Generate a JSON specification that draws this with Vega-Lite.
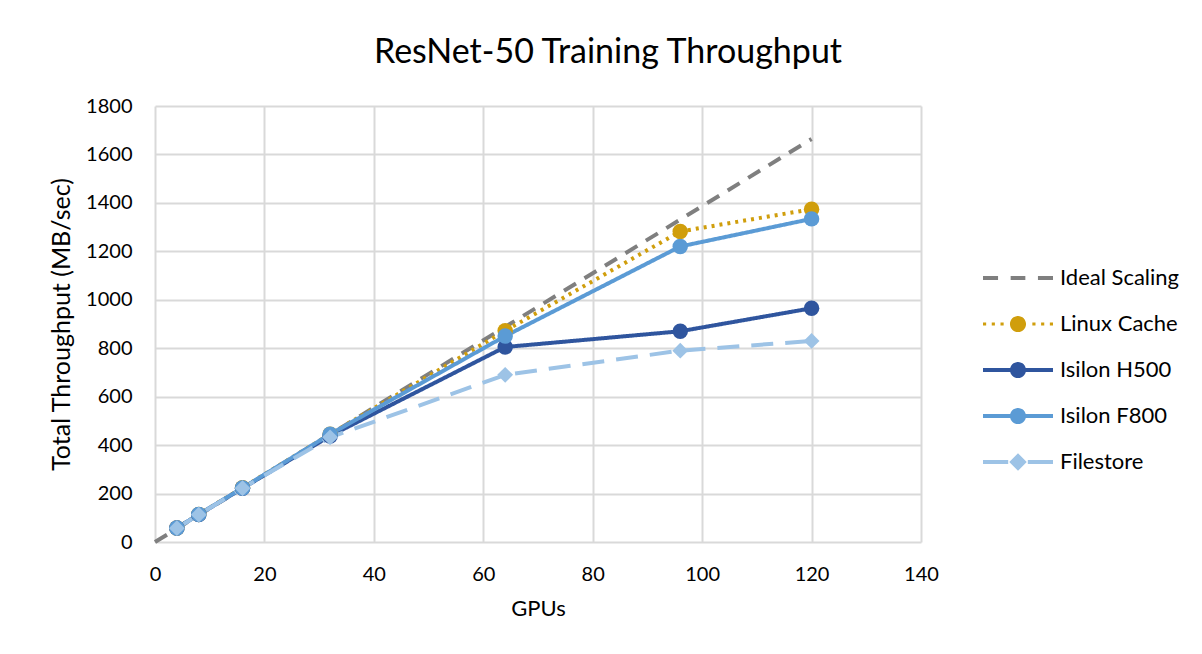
{
  "$schema": "https://vega.github.io/schema/vega-lite/v6.json",
  "width": 766,
  "height": 436,
  "autosize": {"type": "none"},
  "padding": {"left": 155, "top": 106, "right": 281, "bottom": 112},
  "background": "white",
  "title": {
    "text": "ResNet-50 Training Throughput",
    "font": "Lato",
    "fontSize": 34,
    "fontWeight": "normal",
    "color": "#000000",
    "anchor": "middle",
    "dx": 70,
    "offset": 26
  },
  "config": {
    "view": {"stroke": null},
    "font": "Lato",
    "axis": {
      "labelFont": "Lato",
      "labelFontSize": 20,
      "labelColor": "#000000",
      "labelFlush": false,
      "titleFont": "Lato",
      "titleFontWeight": "normal",
      "titleColor": "#000000",
      "domain": false,
      "ticks": false,
      "gridColor": "#D9D9D9",
      "gridWidth": 2
    },
    "legend": {
      "labelFont": "Lato",
      "labelFontSize": 22,
      "labelColor": "#000000"
    }
  },
  "resolve": {"legend": {"color": "independent", "shape": "independent", "strokeDash": "independent"}},
  "data": {
    "values": [
      {"series": "Ideal Scaling", "gpus": 0, "tp": 0},
      {"series": "Ideal Scaling", "gpus": 4, "tp": 55},
      {"series": "Ideal Scaling", "gpus": 8, "tp": 111},
      {"series": "Ideal Scaling", "gpus": 16, "tp": 222},
      {"series": "Ideal Scaling", "gpus": 32, "tp": 444},
      {"series": "Ideal Scaling", "gpus": 64, "tp": 888},
      {"series": "Ideal Scaling", "gpus": 96, "tp": 1331},
      {"series": "Ideal Scaling", "gpus": 120, "tp": 1664},
      {"series": "Linux Cache", "gpus": 4, "tp": 58},
      {"series": "Linux Cache", "gpus": 8, "tp": 114},
      {"series": "Linux Cache", "gpus": 16, "tp": 224},
      {"series": "Linux Cache", "gpus": 32, "tp": 445},
      {"series": "Linux Cache", "gpus": 64, "tp": 872},
      {"series": "Linux Cache", "gpus": 96, "tp": 1282},
      {"series": "Linux Cache", "gpus": 120, "tp": 1374},
      {"series": "Isilon H500", "gpus": 4, "tp": 58},
      {"series": "Isilon H500", "gpus": 8, "tp": 113},
      {"series": "Isilon H500", "gpus": 16, "tp": 222},
      {"series": "Isilon H500", "gpus": 32, "tp": 438},
      {"series": "Isilon H500", "gpus": 64, "tp": 805},
      {"series": "Isilon H500", "gpus": 96, "tp": 870},
      {"series": "Isilon H500", "gpus": 120, "tp": 965},
      {"series": "Isilon F800", "gpus": 4, "tp": 58},
      {"series": "Isilon F800", "gpus": 8, "tp": 114},
      {"series": "Isilon F800", "gpus": 16, "tp": 223},
      {"series": "Isilon F800", "gpus": 32, "tp": 445},
      {"series": "Isilon F800", "gpus": 64, "tp": 850},
      {"series": "Isilon F800", "gpus": 96, "tp": 1220},
      {"series": "Isilon F800", "gpus": 120, "tp": 1334},
      {"series": "Filestore", "gpus": 4, "tp": 57},
      {"series": "Filestore", "gpus": 8, "tp": 113},
      {"series": "Filestore", "gpus": 16, "tp": 222},
      {"series": "Filestore", "gpus": 32, "tp": 432},
      {"series": "Filestore", "gpus": 64, "tp": 690},
      {"series": "Filestore", "gpus": 96, "tp": 790},
      {"series": "Filestore", "gpus": 120, "tp": 830}
    ]
  },
  "encoding": {
    "x": {
      "field": "gpus",
      "type": "quantitative",
      "title": "GPUs",
      "scale": {"domain": [0, 140], "nice": false},
      "axis": {"values": [0, 20, 40, 60, 80, 100, 120, 140], "labelPadding": 22, "titlePadding": 14, "titleFontSize": 22}
    },
    "y": {
      "field": "tp",
      "type": "quantitative",
      "title": "Total Throughput (MB/sec)",
      "scale": {"domain": [0, 1800], "nice": false},
      "axis": {"values": [0, 200, 400, 600, 800, 1000, 1200, 1400, 1600, 1800], "format": "d", "labelPadding": 23, "titlePadding": 11, "titleFontSize": 25}
    },
    "color": {
      "field": "series",
      "type": "nominal",
      "scale": {
        "domain": ["Ideal Scaling", "Linux Cache", "Isilon H500", "Isilon F800", "Filestore"],
        "range": ["#7F7F7F", "#D09E0C", "#2F559E", "#5B9BD5", "#9DC3E6"]
      }
    }
  },
  "layer": [
    {
      "mark": {"type": "point", "filled": true, "opacity": 0, "strokeWidth": 0},
      "encoding": {
        "color": {
          "field": "series",
          "type": "nominal",
          "legend": {
            "title": null,
            "orient": "none",
            "legendX": 828,
            "legendY": 137,
            "symbolSize": 4900,
            "symbolOpacity": 1,
            "symbolStrokeWidth": 0,
            "labelOffset": 7,
            "rowPadding": -1,
            "padding": 0
          }
        },
        "shape": {
          "field": "series",
          "type": "nominal",
          "scale": {
            "domain": ["Ideal Scaling", "Linux Cache", "Isilon H500", "Isilon F800", "Filestore"],
            "range": [
              "M-1,-0.06 H-0.57 V0.06 H-1 Z M-0.21,-0.06 H0.21 V0.06 H-0.21 Z M0.57,-0.06 H1 V0.06 H0.57 Z",
              "M-1,-0.045 H-0.91 V0.045 H-1 Z M-0.75,-0.045 H-0.66 V0.045 H-0.75 Z M-0.5,-0.045 H-0.41 V0.045 H-0.5 Z M0.41,-0.045 H0.5 V0.045 H0.41 Z M0.66,-0.045 H0.75 V0.045 H0.66 Z M0.91,-0.045 H1 V0.045 H0.91 Z M0.23,0 A0.23,0.23 0 1,1 -0.23,0 A0.23,0.23 0 1,1 0.23,0 Z",
              "M-1,-0.06 H1 V0.06 H-1 Z M0.23,0 A0.23,0.23 0 1,1 -0.23,0 A0.23,0.23 0 1,1 0.23,0 Z",
              "M-1,-0.06 H1 V0.06 H-1 Z M0.23,0 A0.23,0.23 0 1,1 -0.23,0 A0.23,0.23 0 1,1 0.23,0 Z",
              "M-1,-0.06 H-0.28 V0.06 H-1 Z M0.28,-0.06 H1 V0.06 H0.28 Z M0,-0.25 L0.25,0 L0,0.25 L-0.25,0 Z"
            ]
          },
          "legend": {
            "title": null,
            "orient": "none",
            "legendX": 828,
            "legendY": 137,
            "symbolSize": 4900,
            "symbolOpacity": 1,
            "symbolStrokeWidth": 0,
            "labelOffset": 7,
            "rowPadding": -1,
            "padding": 0
          }
        }
      }
    },
    {
      "mark": {"type": "line", "strokeWidth": 4},
      "encoding": {
        "color": {"field": "series", "type": "nominal", "legend": null},
        "strokeDash": {
          "field": "series",
          "type": "nominal",
          "scale": {
            "domain": ["Ideal Scaling", "Linux Cache", "Isilon H500", "Isilon F800", "Filestore"],
            "range": [[14, 10], [3, 5], [1, 0], [1, 0], [22, 12]]
          },
          "legend": null
        }
      }
    },
    {
      "transform": [{"filter": "datum.series !== 'Ideal Scaling' && datum.series !== 'Filestore'"}],
      "mark": {"type": "point", "shape": "circle", "filled": true, "opacity": 1, "size": 240},
      "encoding": {"color": {"field": "series", "type": "nominal", "legend": null}}
    },
    {
      "transform": [{"filter": "datum.series === 'Filestore'"}],
      "mark": {"type": "point", "shape": "diamond", "filled": true, "opacity": 1, "size": 250},
      "encoding": {"color": {"field": "series", "type": "nominal", "legend": null}}
    }
  ]
}
